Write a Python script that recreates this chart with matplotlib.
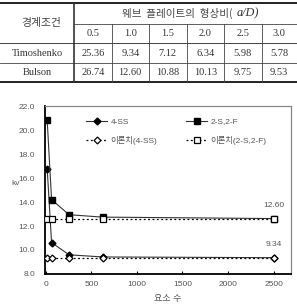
import matplotlib
matplotlib.use("Agg")
import matplotlib.pyplot as plt

plt.rcParams['font.family'] = ['Liberation Sans', 'Noto Sans CJK KR']

# Table values (web plate aspect ratio a/D)
aspect_ratios = ["0.5", "1.0", "1.5", "2.0", "2.5", "3.0"]
row_names = ["Timoshenko", "Bulson"]
timoshenko = ["25.36", "9.34", "7.12", "6.34", "5.98", "5.78"]
bulson = ["26.74", "12.60", "10.88", "10.13", "9.75", "9.53"]

# Chart values: number of elements vs kv
elements = [16, 64, 256, 625, 2500]
kv_4ss = [16.76, 10.62, 9.60, 9.42, 9.36]
kv_2s2f = [20.80, 14.20, 12.94, 12.74, 12.62]
theory_4ss = [9.34, 9.34, 9.34, 9.34, 9.34]
theory_2s2f = [12.60, 12.60, 12.60, 12.60, 12.60]

fig = plt.figure(figsize=(2.97, 3.08), dpi=100)

# ---- table drawn in pixel coordinates ----
tab = fig.add_axes([0, 0, 1, 1])
tab.set_xlim(0, 297)
tab.set_ylim(308, 0)
tab.axis('off')

serif = 'Liberation Serif'
col_edges = [74, 111.5, 149, 186.5, 224, 261.5, 297]
tab.plot([0, 297], [3, 3], color='#222', lw=1.4)
tab.plot([74, 297], [24, 24], color='#444', lw=0.6)
tab.plot([0, 297], [43, 43], color='#444', lw=0.7)
tab.plot([0, 297], [62.5, 62.5], color='#444', lw=0.6)
tab.plot([0, 297], [82, 82], color='#222', lw=1.4)
tab.plot([74, 74], [3, 82], color='#333', lw=1.2)
for xe in col_edges[1:-1]:
    tab.plot([xe, xe], [24, 82], color='#444', lw=0.6)

tab.text(41, 23, "경계조건", ha='center', va='center', fontsize=7.8,
         family='Noto Sans CJK KR', color='#444')
tab.text(233, 13.5, "웨브  플레이트의  형상비(", ha='right', va='center',
         fontsize=7.6, family='Noto Sans CJK KR', color='#444')
tab.text(237, 13.5, "a/D)", ha='left', va='center', fontsize=8.8,
         family=serif, style='italic', color='#333')

rows = [aspect_ratios, timoshenko, bulson]
row_y = [33.5, 53, 72.5]
for r, vals in enumerate(rows):
    for c, v in enumerate(vals):
        xc = (col_edges[c] + col_edges[c + 1]) / 2
        tab.text(xc, row_y[r], v, ha='center', va='center', fontsize=7.5,
                 family=serif, color='#333')
for name, y in zip(row_names, row_y[1:]):
    tab.text(37, y, name, ha='center', va='center', fontsize=7.5,
             family=serif, color='#333')

# ---- chart ----
ax = fig.add_axes([45 / 297, 34 / 308, 246 / 297, 168 / 308])

l1, = ax.plot(elements, kv_4ss, color='#333', lw=0.8, marker='D', ms=3.5,
              mfc='black', mec='black', label='4-SS', zorder=3)
l2, = ax.plot(elements, kv_2s2f, color='#333', lw=0.8, marker='s', ms=5,
              mfc='black', mec='black', label='2-S,2-F', zorder=3)
l3, = ax.plot(elements, theory_4ss, color='black', lw=0.9, ls=(0, (1.5, 2)),
              marker='D', ms=3.5, mfc='white', mec='black', mew=0.9,
              label='이론치(4-SS)', zorder=4)
l4, = ax.plot(elements, theory_2s2f, color='black', lw=0.9, ls=(0, (1.5, 2)),
              marker='s', ms=5, mfc='white', mec='black', mew=0.9,
              label='이론치(2-S,2-F)', zorder=4)

ax.annotate(f"{theory_2s2f[-1]:.2f}", (elements[-1], theory_2s2f[-1]),
            xytext=(0, 7), textcoords='offset points', ha='center',
            va='bottom', fontsize=6, color='#555')
ax.annotate(f"{theory_4ss[-1]:.2f}", (elements[-1], theory_4ss[-1]),
            xytext=(0, 7), textcoords='offset points', ha='center',
            va='bottom', fontsize=6, color='#555')

ax.set_xlim(-8, 2690)
ax.set_ylim(8, 22)
ax.set_xticks([0, 500, 1000, 1500, 2000, 2500])
ax.set_yticks([8, 10, 12, 14, 16, 18, 20, 22])
ax.set_yticklabels([f"{v:.1f}" for v in ax.get_yticks()])
ax.tick_params(axis='both', direction='in', labelsize=6, colors='#555',
               length=2.5, width=0.8)
ax.tick_params(axis='x', pad=5, color='black')
ax.tick_params(axis='y', pad=7, length=0)

for side in ['left', 'bottom']:
    ax.spines[side].set_color('black')
    ax.spines[side].set_linewidth(1.3)
for side in ['top', 'right']:
    ax.spines[side].set_color('#888')
    ax.spines[side].set_linewidth(0.9)

ax.set_ylabel("kv", rotation=0, fontsize=6, color='#555')
ax.yaxis.set_label_coords(-0.12, 0.52)
ax.set_xlabel("요소 수", fontsize=6.5, color='#555', labelpad=4)

ax.legend(handles=[l1, l3, l2, l4], ncol=2, frameon=False, fontsize=6,
          loc='upper left', bbox_to_anchor=(0.135, 0.975), handlelength=2.6,
          columnspacing=3.4, labelspacing=1.3, handletextpad=0.4,
          labelcolor='#555')

fig.savefig("out.png", dpi=100)
